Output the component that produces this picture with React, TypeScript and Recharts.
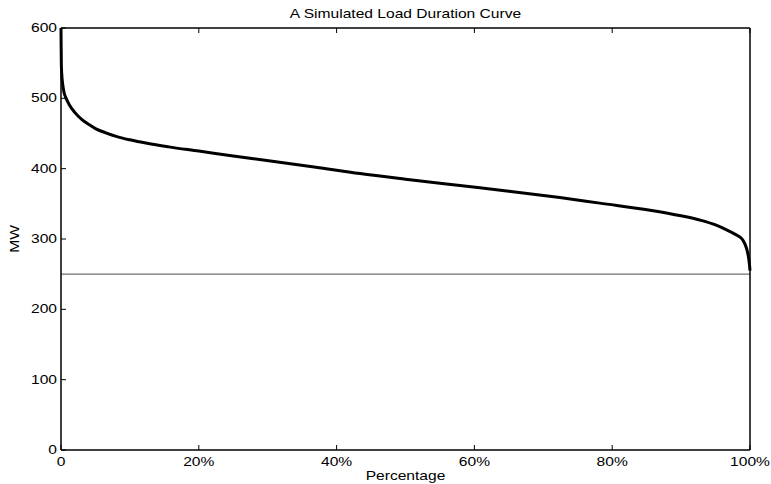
import { LineChart, Line, XAxis, YAxis, ReferenceLine } from 'recharts';

const pct = [0, 0.02, 0.05, 0.1, 0.26, 0.45, 0.75, 1.2, 2, 3, 4, 5, 6.5, 8, 10, 12.5, 15.6, 20, 25, 30.4, 37, 43.4, 50, 57.9, 65, 72.4, 78.2, 85.5, 90, 92.7, 95, 96.6, 97.8, 98.5, 99, 99.3, 99.6, 99.8, 99.93, 100];
const mw = [600, 575, 548, 536, 519, 508, 500, 491, 480, 470, 463, 457, 451, 446, 441, 436, 431, 425, 418, 411, 402, 393, 385, 376, 368, 359, 351, 341, 333, 327, 320, 313, 307, 303, 298, 292, 283, 273, 263, 255];
const xTicks = [0, 20, 40, 60, 80, 100];
const yTicks = [0, 100, 200, 300, 400, 500, 600];
const baseLoad = 250;

const data = pct.map((p, i) => ({ p, mw: mw[i] }));

const FONT = '"Liberation Sans", Arial, Helvetica, sans-serif';
const SX = 1.3;
const TICK = 5;

function ScaledText({ x, y, anchor, children, rotate }: any) {
  const tr = rotate ? `translate(${x},${y}) rotate(-90) scale(${SX},1)` : `translate(${x},${y}) scale(${SX},1)`;
  return (
    <text transform={tr} textAnchor={anchor} fontFamily={FONT} fontSize={12} fill="#000">
      {children}
    </text>
  );
}

const BottomTick = ({ x, y, payload }: any) => (
  <g>
    <line x1={x} y1={y} x2={x} y2={y - TICK} stroke="#000" />
    <ScaledText x={x} y={y + 16} anchor="middle">
      {payload.value === 0 ? '0' : `${payload.value}%`}
    </ScaledText>
  </g>
);

const TopTick = ({ x, y }: any) => <line x1={x} y1={y} x2={x} y2={y + TICK} stroke="#000" />;

const LeftTick = ({ x, y, payload }: any) => (
  <g>
    <line x1={x} y1={y} x2={x + TICK} y2={y} stroke="#000" />
    <ScaledText x={x - 4} y={y + 4} anchor="end">
      {String(payload.value)}
    </ScaledText>
  </g>
);

const RightTick = ({ x, y }: any) => <line x1={x} y1={y} x2={x - TICK} y2={y} stroke="#000" />;

export default function App() {
  return (
    <div style={{ position: 'absolute', left: 0, top: 0, width: 771, height: 484, background: '#fff' }}>
      <LineChart width={771} height={484} data={data} margin={{ top: 0, right: 0, bottom: 0, left: 0 }}>
        <XAxis
          xAxisId="b"
          dataKey="p"
          type="number"
          domain={[0, 100]}
          ticks={xTicks}
          tickSize={0}
          tickMargin={0}
          height={34}
          tick={BottomTick}
          axisLine={{ stroke: '#000', strokeWidth: 1.5 }}
          label={({ viewBox }: any) => (
            <ScaledText x={viewBox.x + viewBox.width / 2} y={viewBox.y + 30} anchor="middle">
              Percentage
            </ScaledText>
          )}
        />
        <XAxis
          xAxisId="t"
          orientation="top"
          dataKey="p"
          type="number"
          domain={[0, 100]}
          ticks={xTicks}
          tickSize={0}
          tickMargin={0}
          height={28}
          tick={TopTick}
          axisLine={{ stroke: '#000', strokeWidth: 1.5 }}
          label={({ viewBox }: any) => (
            <ScaledText x={viewBox.x + viewBox.width / 2} y={18} anchor="middle">
              A Simulated Load Duration Curve
            </ScaledText>
          )}
        />
        <YAxis
          yAxisId="l"
          domain={[0, 600]}
          ticks={yTicks}
          tickSize={0}
          tickMargin={0}
          width={61}
          tick={LeftTick}
          axisLine={{ stroke: '#000', strokeWidth: 1.5 }}
          label={({ viewBox }: any) => (
            <ScaledText x={19} y={viewBox.y + viewBox.height / 2} anchor="middle" rotate>
              MW
            </ScaledText>
          )}
        />
        <YAxis
          yAxisId="r"
          orientation="right"
          domain={[0, 600]}
          ticks={yTicks}
          tickSize={0}
          tickMargin={0}
          width={21}
          tick={RightTick}
          axisLine={{ stroke: '#000', strokeWidth: 1.5 }}
        />
        <ReferenceLine xAxisId="b" yAxisId="l" y={baseLoad} stroke="#707070" strokeWidth={1.2} />
        <Line
          xAxisId="b"
          yAxisId="l"
          dataKey="mw"
          type="monotone"
          stroke="#000"
          strokeWidth={3}
          dot={false}
          isAnimationActive={false}
        />
      </LineChart>
    </div>
  );
}
